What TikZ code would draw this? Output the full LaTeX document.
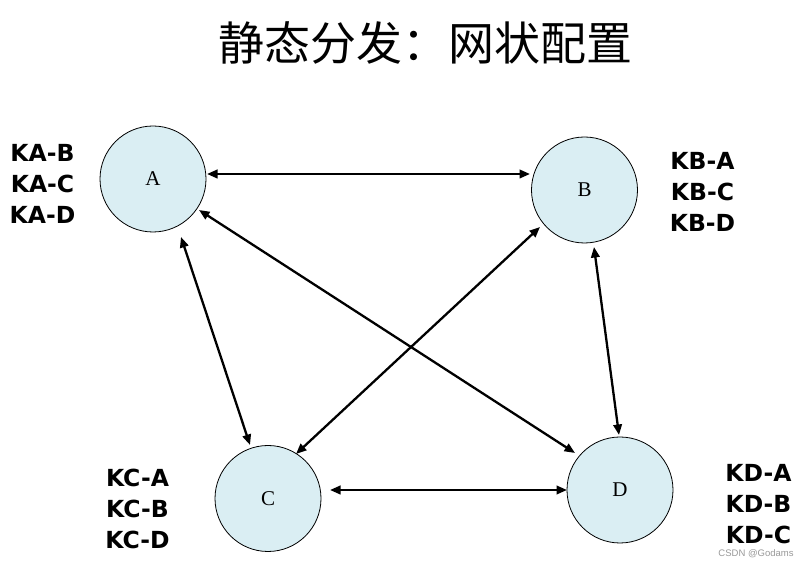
\documentclass[tikz,border=0pt]{standalone}
\usepackage{fontspec}
\setmainfont{Liberation Serif}
\newfontfamily\cjk{Noto Sans CJK SC}
\newfontfamily\lblfont{DejaVu Sans}
\newfontfamily\wmfont{Liberation Sans}
\usetikzlibrary{arrows.meta}
\definecolor{nodefill}{HTML}{DAEEF3}
\tikzset{
  peer/.style={circle, draw=black, line width=0.8pt, fill=nodefill, minimum size=106pt, inner sep=0pt, font=\fontsize{21}{23}\selectfont},
  keylist/.style={align=center, inner sep=0pt, font=\lblfont\bfseries\fontsize{23.5}{31}\selectfont},
  link/.style={line width=2.3pt, {Triangle[length=10.5pt,width=8.5pt]}-{Triangle[length=10.5pt,width=8.5pt]}}
}
\begin{document}
\begin{tikzpicture}[x=1pt,y=1pt]
\useasboundingbox[fill=white] (0,0) rectangle (810,561);
\node[font=\cjk\fontsize{46}{50}\selectfont, inner sep=0pt] (title) at (425,518) {静态分发：网状配置};

\node[peer] (A) at (153,382) {A};
\node[peer] (B) at (584.5,371) {B};
\node[peer] (C) at (268,62.5) {C};
\node[peer] (D) at (620,71) {D};

\node[keylist] (ka) at (42.5,377) {KA-B\\KA-C\\KA-D};
\node[keylist] (kb) at (702.5,369) {KB-A\\KB-C\\KB-D};
\node[keylist] (kc) at (137.5,52.5) {KC-A\\KC-B\\KC-D};
\node[keylist] (kd) at (758.5,57) {KD-A\\KD-B\\KD-C};

\draw[link] ([shift={(54,5)}]A.center) -- ([shift={(-54.5,16)}]B.center);
\draw[link] ([shift={(46,-31)}]A.center) -- ([shift={(-45,37)}]D.center);
\draw[link] ([shift={(28,-58)}]A.center) -- ([shift={(-18,53.5)}]C.center);
\draw[link] ([shift={(-44.5,-37)}]B.center) -- ([shift={(28,44.5)}]C.center);
\draw[link] ([shift={(9.5,-57)}]B.center) -- ([shift={(-1,55)}]D.center);
\draw[link] ([shift={(62,8.5)}]C.center) -- ([shift={(-53,0)}]D.center);

\node[font=\wmfont\fontsize{9.5}{10}\selectfont, text=black!40, inner sep=0pt] (wm) at (756,7) {CSDN @Godams};
\end{tikzpicture}
\end{document}
